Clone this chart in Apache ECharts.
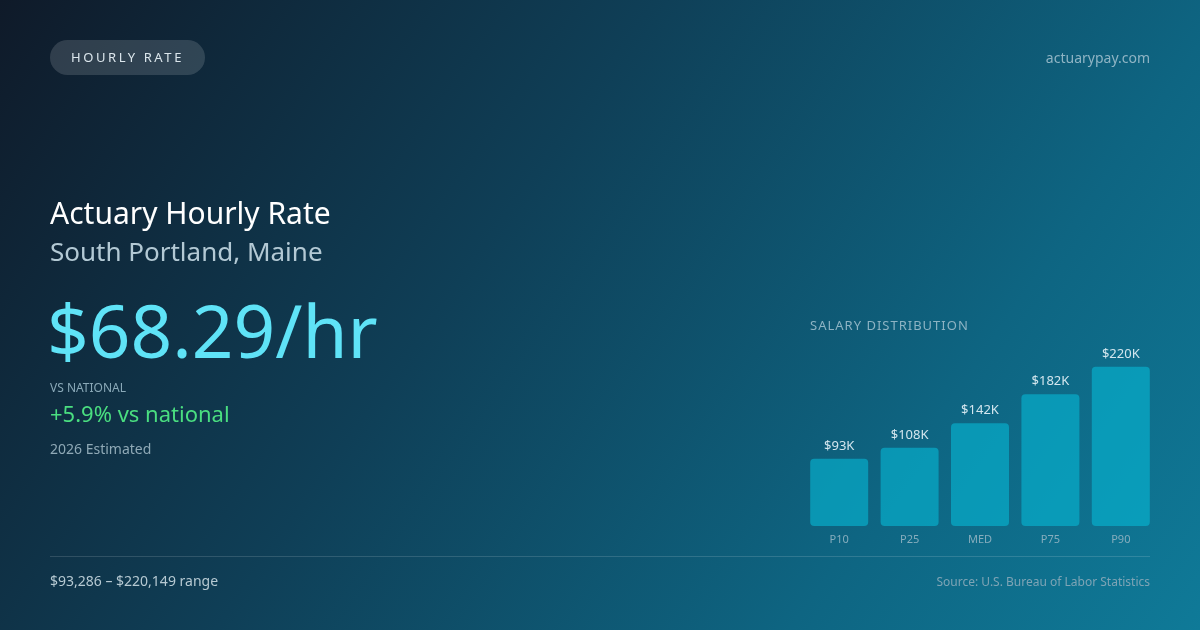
<!DOCTYPE html>
<html lang="en">
<head>
    <meta charset="UTF-8">
    <title>Actuary Hourly Rate - South Portland, Maine</title>
    <script src="https://cdn.jsdelivr.net/npm/echarts@6/dist/echarts.min.js"></script>
    <style>
        html, body {
            margin: 0;
            padding: 0;
        }
        body {
            width: 1200px;
            height: 630px;
            overflow: hidden;
            position: relative;
            font-family: "Noto Sans", "Open Sans", sans-serif;
            background: linear-gradient(125deg, #0f1a29 0%, #0f3f57 40%, #0e6582 75%, #0f7a98 100%);
        }
        .abs { position: absolute; white-space: nowrap; }
        .badge {
            left: 50px; top: 40px;
            width: 155px; height: 35px;
            border-radius: 18px;
            background: rgba(255,255,255,0.14);
            color: #dbe6ec;
            font-size: 13px;
            letter-spacing: 2.6px;
            line-height: 35px;
            text-align: center;
        }
        .site { right: 50px; top: 48px; font-size: 14px; color: #8fb4c4; }
        .title { left: 50px; top: 192px; font-size: 30px; color: #ffffff; }
        .place { left: 50px; top: 233px; font-size: 26px; color: #b3c9d4; }
        .rate { left: 47px; top: 283px; font-size: 73px; color: #5fe3f7; line-height: 1.3; }
        .vs-label { left: 50px; top: 379px; font-size: 12px; color: #8aa9b8; }
        .vs-value { left: 50px; top: 398px; font-size: 22px; color: #4ade80; }
        .est { left: 50px; top: 439px; font-size: 14px; color: #8fa9b6; }
        .dist { left: 810px; top: 316px; font-size: 13px; color: #8db3c3; letter-spacing: 1px; }
        .divider { left: 50px; top: 556px; width: 1100px; height: 1px; background: rgba(255,255,255,0.14); }
        .range { left: 50px; top: 571px; font-size: 14px; color: #b6c9d2; }
        .source { right: 50px; top: 573px; font-size: 12px; color: #7ea4b5; }
        #chart { position: absolute; left: 0; top: 0; width: 1200px; height: 630px; }
    </style>
</head>
<body>
    <div id="chart"></div>
    <div class="abs badge">HOURLY RATE</div>
    <div class="abs site">actuarypay.com</div>
    <div class="abs title">Actuary Hourly Rate</div>
    <div class="abs place">South Portland, Maine</div>
    <div class="abs rate">$68.29/hr</div>
    <div class="abs vs-label">VS NATIONAL</div>
    <div class="abs vs-value">+5.9% vs national</div>
    <div class="abs est">2026 Estimated</div>
    <div class="abs dist">SALARY DISTRIBUTION</div>
    <div class="abs divider"></div>
    <div class="abs range">$93,286 – $220,149 range</div>
    <div class="abs source">Source: U.S. Bureau of Labor Statistics</div>

    <script>
        // 分位数据 (单位: 千美元)
        const percentiles = ['P10', 'P25', 'MED', 'P75', 'P90'];
        const salaryK = [93, 108, 142, 182, 220];
        const valueLabels = ['$93K', '$108K', '$142K', '$182K', '$220K'];

        const myChart = echarts.init(document.getElementById('chart'), null, { renderer: 'canvas' });

        const option = {
            animation: false,
            backgroundColor: 'transparent',
            grid: {
                left: 804,
                width: 352,
                top: 345,
                bottom: 104
            },
            xAxis: {
                type: 'category',
                data: percentiles,
                axisLine: { show: false },
                axisTick: { show: false },
                axisLabel: {
                    color: '#86adbd',
                    fontSize: 11,
                    fontFamily: 'Noto Sans',
                    margin: 8
                }
            },
            yAxis: {
                type: 'value',
                min: 0,
                max: 250,
                show: false
            },
            series: [{
                type: 'bar',
                data: salaryK,
                barWidth: 58,
                itemStyle: {
                    color: 'rgba(6,182,212,0.62)',
                    borderRadius: 4
                },
                label: {
                    show: true,
                    position: 'top',
                    distance: 6,
                    color: '#d3e6ee',
                    fontSize: 13,
                    fontFamily: 'Noto Sans',
                    formatter: p => valueLabels[p.dataIndex]
                }
            }]
        };

        myChart.setOption(option);
    </script>
</body>
</html>
